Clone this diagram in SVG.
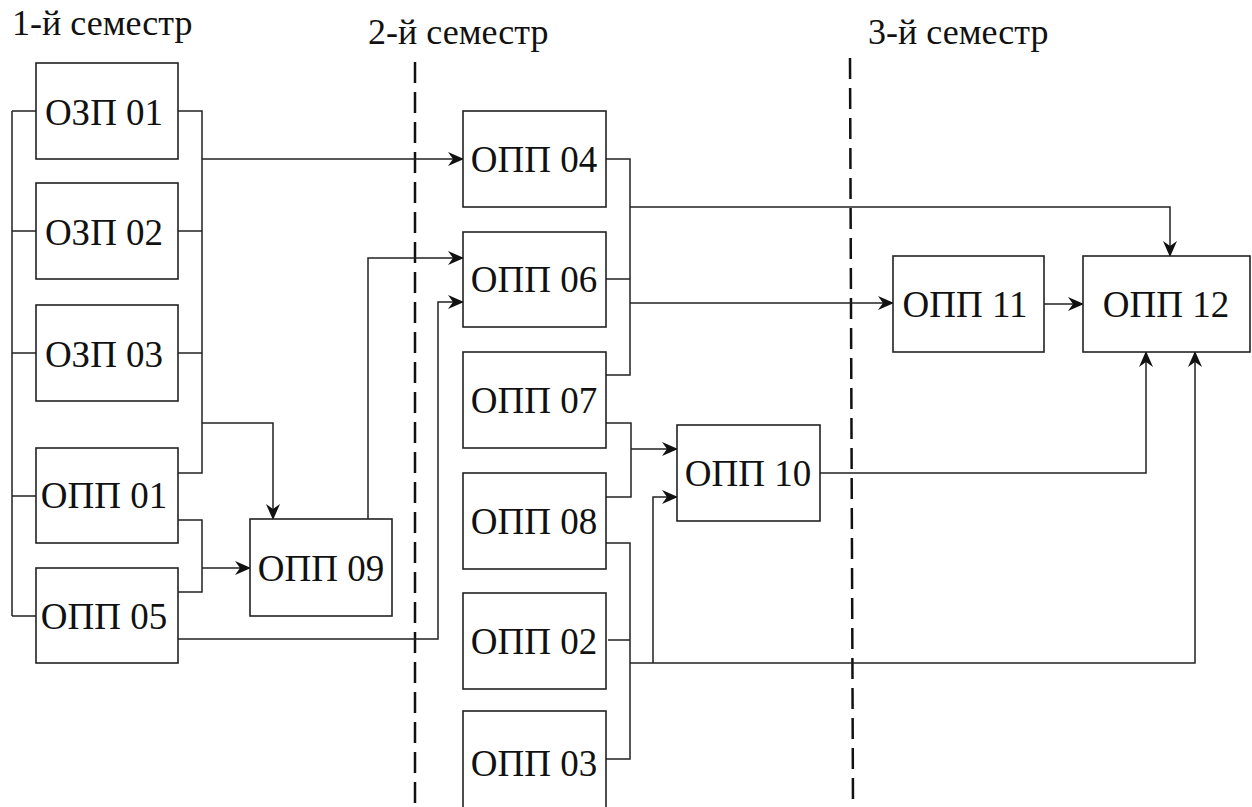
<svg xmlns="http://www.w3.org/2000/svg" width="1252" height="807" viewBox="0 0 1252 807">
<style>
.box{fill:#fff;stroke:#222;stroke-width:1.6}
.lbl{font-family:'Liberation Serif','Times New Roman',serif;font-size:37px;fill:#111;text-anchor:middle}
.hdr{font-family:'Liberation Serif','Times New Roman',serif;font-size:36px;fill:#111}
.w{fill:none;stroke:#222;stroke-width:1.5}
.a{marker-end:url(#arr)}
.dash{fill:none;stroke:#111;stroke-width:2.5;stroke-dasharray:21 9}
</style>
<defs>
<marker id="arr" viewBox="0 0 16 14" refX="15" refY="7" markerWidth="16" markerHeight="14" markerUnits="userSpaceOnUse" orient="auto">
<path d="M0,0 L16,7 L0,14 L5,7 z" fill="#111"/>
</marker>
</defs>
<rect width="1252" height="807" fill="#fff"/>
<g id="headers">
<text class="hdr" x="12" y="35">1-й семестр</text>
<text class="hdr" x="368" y="44">2-й семестр</text>
<text class="hdr" x="868" y="44">3-й семестр</text>
</g>
<g id="dividers">
<line class="dash" x1="415" y1="62" x2="415" y2="807"/>
<line class="dash" x1="850" y1="58" x2="853" y2="807"/>
</g>
<g id="connectors">
<path class="w" d="M12,111 V616 M12,111 H36 M12,231 H36 M12,353 H36 M12,496 H36 M12,616 H36"/>
<path class="w" d="M178,111 H202 V473 H178 M178,231 H202 M178,353 H202"/>
<path class="w a" d="M202,159 H463"/>
<path class="w a" d="M202,423 H273 V519"/>
<path class="w" d="M178,520 H202 V592 H178"/>
<path class="w a" d="M202,568 H250"/>
<path class="w a" d="M368,519 V258 H463"/>
<path class="w a" d="M178,639 H438 V302 H463"/>
<path class="w" d="M606,159 H630 V375 H606 M606,279 H630"/>
<path class="w a" d="M630,207 H1170 V256"/>
<path class="w a" d="M630,303 H893"/>
<path class="w" d="M606,423 H631 V497 H606"/>
<path class="w a" d="M631,449 H677"/>
<path class="w" d="M606,543 H630 V759 H606 M608,640 H630"/>
<path class="w a" d="M630,663 H1195 V352"/>
<path class="w a" d="M653,663 V497 H677"/>
<path class="w a" d="M820,473 H1146 V352"/>
<path class="w a" d="M1044,304 H1083"/>
</g>
<g id="n-ozp01"><rect class="box" x="36" y="63" width="142" height="96"/><text class="lbl" x="104" y="125">ОЗП 01</text></g>
<g id="n-ozp02"><rect class="box" x="36" y="183" width="142" height="96"/><text class="lbl" x="104" y="245">ОЗП 02</text></g>
<g id="n-ozp03"><rect class="box" x="36" y="305" width="142" height="96"/><text class="lbl" x="104" y="367">ОЗП 03</text></g>
<g id="n-opp01"><rect class="box" x="36" y="448" width="142" height="95"/><text class="lbl" x="104" y="508">ОПП 01</text></g>
<g id="n-opp05"><rect class="box" x="36" y="568" width="142" height="95"/><text class="lbl" x="104" y="629">ОПП 05</text></g>
<g id="n-opp09"><rect class="box" x="250" y="519" width="142" height="97"/><text class="lbl" x="321" y="581">ОПП 09</text></g>
<g id="n-opp04"><rect class="box" x="463" y="111" width="143" height="96"/><text class="lbl" x="534" y="172">ОПП 04</text></g>
<g id="n-opp06"><rect class="box" x="463" y="232" width="143" height="95"/><text class="lbl" x="534" y="292">ОПП 06</text></g>
<g id="n-opp07"><rect class="box" x="463" y="352" width="143" height="96"/><text class="lbl" x="534" y="413">ОПП 07</text></g>
<g id="n-opp08"><rect class="box" x="463" y="473" width="143" height="96"/><text class="lbl" x="534" y="534">ОПП 08</text></g>
<g id="n-opp02"><rect class="box" x="463" y="593" width="143" height="96"/><text class="lbl" x="534" y="654">ОПП 02</text></g>
<g id="n-opp03"><rect class="box" x="463" y="711" width="143" height="98"/><text class="lbl" x="534" y="776">ОПП 03</text></g>
<g id="n-opp10"><rect class="box" x="677" y="425" width="143" height="96"/><text class="lbl" x="748" y="486">ОПП 10</text></g>
<g id="n-opp11"><rect class="box" x="893" y="256" width="151" height="96"/><text class="lbl" x="965" y="317">ОПП 11</text></g>
<g id="n-opp12"><rect class="box" x="1083" y="256" width="167" height="96"/><text class="lbl" x="1166" y="317">ОПП 12</text></g>
</svg>
